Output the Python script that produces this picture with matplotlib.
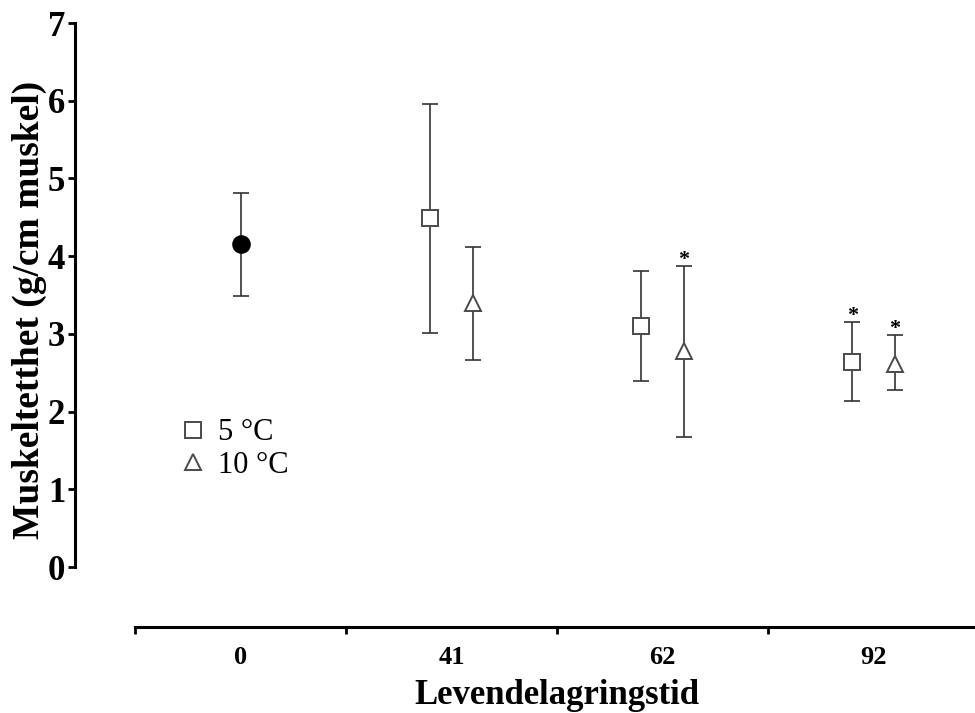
import numpy as np
import matplotlib
matplotlib.use('Agg')
import matplotlib.pyplot as plt
from matplotlib.lines import Line2D

# data
groups = ['0', '41', '62', '92']

ctrl_mean = [4.16]
ctrl_low = [3.49]
ctrl_high = [4.81]

c5_mean = [4.49, 3.10, 2.64]
c5_low = [3.01, 2.39, 2.14]
c5_high = [5.96, 3.81, 3.15]
c5_sig = [False, False, True]

c10_mean = [3.40, 2.78, 2.61]
c10_low = [2.66, 1.67, 2.28]
c10_high = [4.12, 3.87, 2.99]
c10_sig = [False, True, True]

plt.rcParams['font.family'] = ['Liberation Serif', 'DejaVu Serif']

fig = plt.figure(figsize=(9.75, 7.13), dpi=100)
ax = fig.add_axes([75/975, 146/713, 900/975, 544/713])

ecol = '#333333'
mcol = '#4a4a4a'
off = 0.1

def draw(x, mean, low, high, marker, face):
    mean = np.array(mean); low = np.array(low); high = np.array(high)
    ax.errorbar(x, mean, yerr=[mean - low, high - mean], fmt='none',
                ecolor=ecol, elinewidth=1.2, capsize=6, capthick=1.2, zorder=2)
    ax.plot(x, mean, linestyle='none', marker=marker, markersize=12,
            markerfacecolor=face, markeredgecolor=mcol if face == 'white' else 'black',
            markeredgewidth=1.4, zorder=3)

draw([0], ctrl_mean, ctrl_low, ctrl_high, 'o', 'black')
x5 = np.arange(1, 4) - off
x10 = np.arange(1, 4) + off
draw(x5, c5_mean, c5_low, c5_high, 's', 'white')
draw(x10, c10_mean, c10_low, c10_high, '^', 'white')

# significance stars
for xs, hs, sig in [(x5, c5_high, c5_sig), (x10, c10_high, c10_sig)]:
    for xx, hh, s in zip(xs, hs, sig):
        if s:
            ax.annotate('*', (xx, hh), xytext=(0, -3), textcoords='offset points',
                        ha='center', va='bottom', fontsize=16, fontweight='bold')

ax.set_ylim(0, 7)
xright = -0.5 + (975 - 135) / 211
xleft = -0.5 - 60 / 211
ax.set_xlim(xleft, xright)

for s in ['top', 'right']:
    ax.spines[s].set_visible(False)
ax.spines['left'].set_linewidth(2.2)
ax.spines['bottom'].set_linewidth(2.2)
ax.spines['bottom'].set_position(('outward', 60 * 0.72))
ax.spines['bottom'].set_bounds(-0.5, xright)

ax.set_yticks(range(8))
ax.tick_params(axis='y', direction='out', length=5, width=2, pad=2, labelsize=25)
for t in ax.get_yticklabels():
    t.set_fontweight('bold')

ax.set_xticks(range(4))
ax.set_xticklabels(groups, fontsize=19, fontweight='bold')
ax.set_xticks([-0.5, 0.5, 1.5, 2.5], minor=True)
ax.tick_params(axis='x', which='major', length=0, pad=14)
ax.tick_params(axis='x', which='minor', direction='out', length=5, width=2)

ax.set_xlabel('Levendelagringstid', fontsize=25, fontweight='bold', va='center')
ax.xaxis.set_label_coords((557 - 75) / 900, (567 - 695) / 544)
ax.set_ylabel('Muskeltetthet (g/cm muskel)', fontsize=27, fontweight='bold', va='center')
ax.yaxis.set_label_coords((29 - 75) / 900, (567 - 310) / 544)

handles = [Line2D([], [], linestyle='none', marker='s', markersize=12, markerfacecolor='white',
                  markeredgecolor=mcol, markeredgewidth=1.4),
           Line2D([], [], linestyle='none', marker='^', markersize=12, markerfacecolor='white',
                  markeredgecolor=mcol, markeredgewidth=1.4)]
ax.legend(handles, ['5 °C', '10 °C'], loc='center left', frameon=False,
          bbox_to_anchor=((178 - 75) / 900, (567 - 449) / 544),
          prop={'size': 22}, handlelength=1, handletextpad=0.3, labelspacing=0.1,
          borderaxespad=0, borderpad=0)

fig.savefig('out.png', dpi=100)
